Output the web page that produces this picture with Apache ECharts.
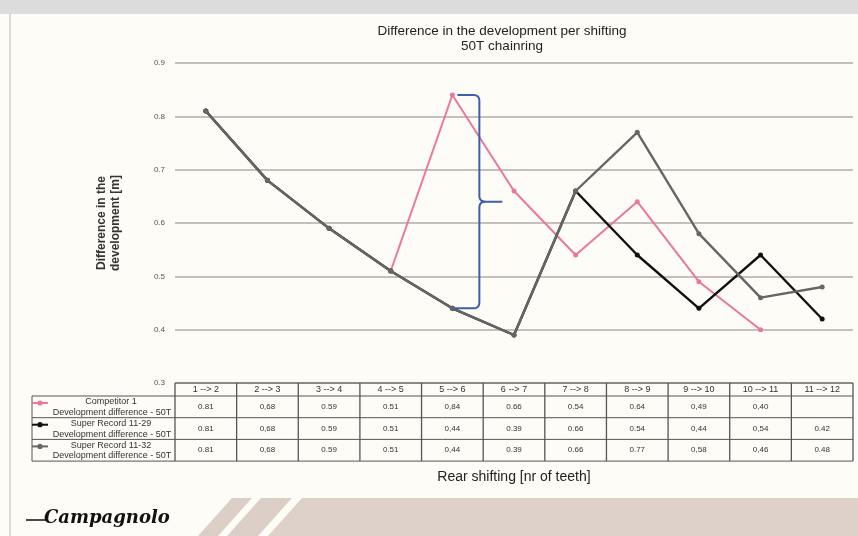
<!DOCTYPE html>
<html><head><meta charset="utf-8">
<script src="https://cdn.jsdelivr.net/npm/echarts@6/dist/echarts.min.js"></script>
<style>html,body{margin:0;padding:0;background:#fdfcf6}#c{width:858px;height:536px}</style>
</head><body><div id="c"></div>
<script>
const categories = ['1 --> 2','2 --> 3','3 --> 4','4 --> 5','5 --> 6','6 --> 7','7 --> 8','8 --> 9','9 --> 10','10 --> 11','11 --> 12'];
const competitor1 = [0.81,0.68,0.59,0.51,0.84,0.66,0.54,0.64,0.49,0.40,null];
const superRecord1129 = [0.81,0.68,0.59,0.51,0.44,0.39,0.66,0.54,0.44,0.54,0.42];
const superRecord1132 = [0.81,0.68,0.59,0.51,0.44,0.39,0.66,0.77,0.58,0.46,0.48];
const decimalSep = ['.',',','.','.',',','.','.','.',',',',','.'];
const seriesNames = ['Competitor 1','Super Record 11-29','Super Record 11-32'];
const rowSubtitle = 'Development difference - 50T';
const yMin = 0.3, yMax = 0.9, yStep = 0.1;

const FONT = "'Liberation Sans Narrow','Liberation Sans',Arial,sans-serif";
const colors = ['#e9789f','#111111','#666666'];
const chart = echarts.init(document.getElementById('c'));

const seriesData = [competitor1, superRecord1129, superRecord1132];
chart.setOption({
  backgroundColor: '#fdfcf6',
  animation: false,
  title: {
    text: 'Difference in the development per shifting\n50T chainring',
    left: 497, top: 19, textAlign: 'center',
    textStyle: {fontFamily: FONT, fontSize: 13.5, fontWeight: 'normal', color: '#222', lineHeight: 15}
  },
  grid: {left: 175, right: 5, top: 63, bottom: 153},
  xAxis: {
    type: 'category', data: categories, boundaryGap: true,
    axisLine: {show: false}, axisTick: {show: false}, axisLabel: {show: false},
    name: 'Rear shifting [nr of teeth]', nameLocation: 'middle', nameGap: 87,
    nameTextStyle: {fontFamily: FONT, fontSize: 14, color: '#222'}
  },
  yAxis: {
    type: 'value', min: yMin, max: yMax, interval: yStep,
    axisLine: {show: false}, axisTick: {show: false},
    axisLabel: {fontFamily: FONT, fontSize: 8, color: '#555', margin: 10, formatter: v => v.toFixed(1)},
    splitLine: {lineStyle: {color: '#b3ada5', width: 1.6}},
    name: 'Difference in the\ndevelopment [m]', nameLocation: 'middle', nameGap: 52, nameRotate: 90,
    nameTextStyle: {fontFamily: FONT, fontSize: 12, fontWeight: 'bold', color: '#333', lineHeight: 14}
  },
  series: seriesData.map((d, i) => ({
    name: seriesNames[i], type: 'line', data: d,
    symbol: 'circle', symbolSize: 5, z: 2 + i,
    lineStyle: {color: colors[i], width: i === 0 ? 2 : 2.4},
    itemStyle: {color: colors[i]}
  }))
});

function curve(a, c, b, n) {
  const pts = [];
  for (let k = 0; k <= n; k++) {
    const t = k / n, u = 1 - t;
    pts.push([u*u*a[0] + 2*u*t*c[0] + t*t*b[0], u*u*a[1] + 2*u*t*c[1] + t*t*b[1]]);
  }
  return pts;
}

function build() {
  const p0 = chart.convertToPixel({gridIndex: 0}, [0, yMin]);
  const p1 = chart.convertToPixel({gridIndex: 0}, [1, yMin]);
  const step = p1[0] - p0[0];
  const tableTop = p0[1];
  const headerH = 13, rowH = 21.7;
  const left0 = p0[0] - step / 2;
  const right0 = left0 + step * categories.length;
  const legendLeft = 32;
  const g = [];
  const lineStyle = {stroke: '#555', lineWidth: 1};
  const bodyTop = tableTop + headerH;
  const bodyBot = bodyTop + rowH * 3;
  // decorative top band / border
  g.push({type: 'rect', shape: {x: 0, y: 0, width: 858, height: 14}, style: {fill: '#dcdcdc'}, z: 0});
  g.push({type: 'line', shape: {x1: 10, y1: 14, x2: 10, y2: 536}, style: {stroke: '#b8b8b8', lineWidth: 1}});
  // horizontal lines
  g.push({type: 'line', shape: {x1: left0, y1: tableTop, x2: right0, y2: tableTop}, style: lineStyle});
  for (let r = 0; r <= 3; r++) {
    const y = bodyTop + r * rowH;
    g.push({type: 'line', shape: {x1: legendLeft, y1: y, x2: right0, y2: y}, style: lineStyle});
  }
  g.push({type: 'line', shape: {x1: legendLeft, y1: bodyTop, x2: legendLeft, y2: bodyBot}, style: lineStyle});
  for (let k = 0; k <= categories.length; k++) {
    const x = left0 + k * step;
    g.push({type: 'line', shape: {x1: x, y1: tableTop, x2: x, y2: bodyBot}, style: {stroke: '#555', lineWidth: 1.3}});
  }
  // header labels
  categories.forEach((c, i) => {
    const x = left0 + (i + 0.5) * step;
    g.push({type: 'text', x: x, y: tableTop + headerH / 2 + 0.5, style: {text: c, fontFamily: FONT, fontSize: 9, fill: '#333', align: 'center', verticalAlign: 'middle'}});
  });
  // rows
  seriesData.forEach((d, r) => {
    const yc = bodyTop + (r + 0.5) * rowH;
    d.forEach((v, i) => {
      if (v == null) return;
      const x = left0 + (i + 0.5) * step;
      g.push({type: 'text', x: x, y: yc, style: {text: v.toFixed(2).replace('.', decimalSep[i]), fontFamily: FONT, fontSize: 8, fill: '#333', align: 'center', verticalAlign: 'middle'}});
    });
    const yTop = bodyTop + r * rowH;
    g.push({type: 'line', shape: {x1: legendLeft, y1: yTop + 7, x2: legendLeft + 16, y2: yTop + 7}, style: {stroke: colors[r], lineWidth: 2}});
    g.push({type: 'circle', shape: {cx: legendLeft + 8, cy: yTop + 7, r: 2.6}, style: {fill: colors[r]}});
    g.push({type: 'text', x: 111, y: yTop + 6, style: {text: seriesNames[r], fontFamily: FONT, fontSize: 9, fill: '#333', align: 'center', verticalAlign: 'middle'}});
    g.push({type: 'text', x: 112, y: yTop + 16.5, style: {text: rowSubtitle, fontFamily: FONT, fontSize: 9, fill: '#333', align: 'center', verticalAlign: 'middle'}});
  });
  // brace annotation
  const bt = chart.convertToPixel({gridIndex: 0}, [4, competitor1[4]]);
  const bb = chart.convertToPixel({gridIndex: 0}, [4, superRecord1129[4]]);
  const bx = bt[0] + 27, ym = (bt[1] + bb[1]) / 2;
  const upper = [[bt[0] + 5, bt[1]]]
    .concat(curve([bx - 6, bt[1]], [bx, bt[1]], [bx, bt[1] + 6], 6))
    .concat(curve([bx, ym - 6], [bx, ym], [bx + 6, ym], 6))
    .concat([[bx + 23, ym]]);
  const lower = curve([bx + 6, ym], [bx, ym], [bx, ym + 6], 6)
    .concat(curve([bx, bb[1] - 6], [bx, bb[1]], [bx - 6, bb[1]], 6))
    .concat([[bb[0] + 2, bb[1]]]);
  g.push({type: 'polyline', shape: {points: upper}, style: {stroke: '#3f5fa8', lineWidth: 2, fill: null}, z: 10});
  g.push({type: 'polyline', shape: {points: lower}, style: {stroke: '#3f5fa8', lineWidth: 2, fill: null}, z: 10});
  // bottom decoration
  g.push({type: 'polygon', shape: {points: [[232,498],[252,498],[218,536],[198,536]]}, style: {fill: '#dccfc8'}});
  g.push({type: 'polygon', shape: {points: [[261,498],[292,498],[258,536],[227,536]]}, style: {fill: '#dccfc8'}});
  g.push({type: 'polygon', shape: {points: [[302,498],[858,498],[858,536],[268,536]]}, style: {fill: '#ddd1ca'}});
  g.push({type: 'line', shape: {x1: 26, y1: 520, x2: 48, y2: 520}, style: {stroke: '#111', lineWidth: 1.5}});
  g.push({type: 'text', x: 44, y: 518, style: {text: 'Campagnolo', fontFamily: "'DejaVu Serif',serif", fontStyle: 'italic', fontWeight: 'bold', fontSize: 18, fill: '#111', align: 'left', verticalAlign: 'middle'}});
  chart.setOption({graphic: g});
}
build();
</script></body></html>
